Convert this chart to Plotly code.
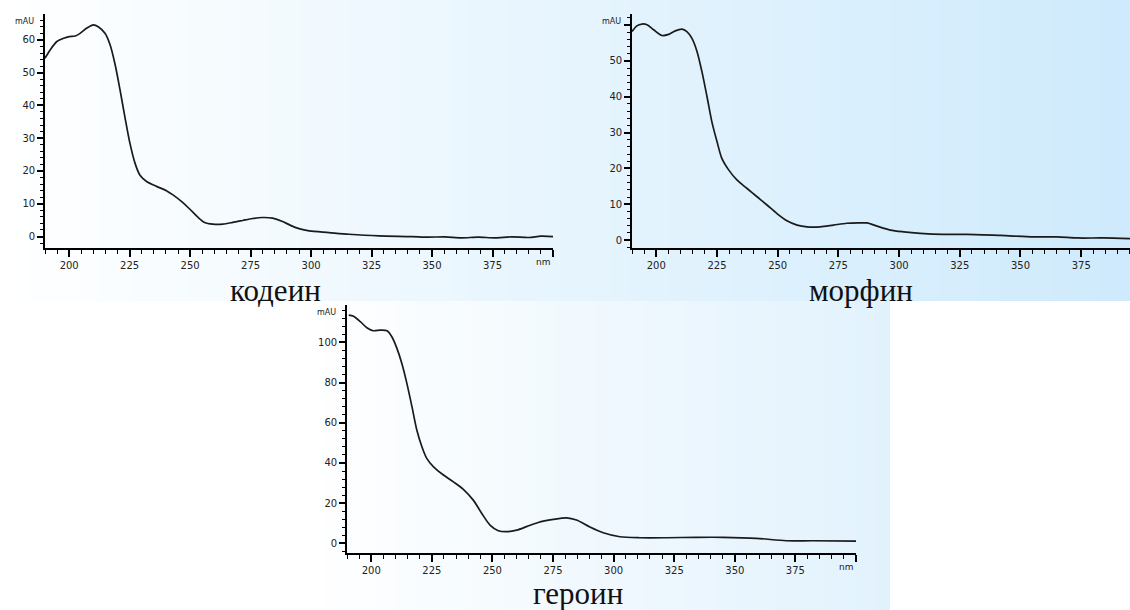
import plotly.graph_objects as go

W, H = 1130, 610

# ---------------- data ----------------
codeine_nm = [190, 192.2, 194.9, 197.7, 200, 202.5, 204.5, 207.3, 210, 212, 214.8, 216.9, 219, 221, 223,
              225.1, 227.2, 229.2, 232, 236.1, 240.2, 242.9, 246.4, 249.8, 253.2, 256, 259.4, 263.5, 267.6,
              271.7, 275.8, 279.9, 284.1, 288.2, 291.5, 295, 299.2, 307.4, 315.6, 328, 341.7, 348, 355.4,
              362, 369.1, 376, 382.9, 390, 395, 400]
codeine_mau = [54.4, 57, 59.5, 60.5, 61, 61.2, 62, 63.6, 64.6, 64, 62, 58.5, 52.4, 44.8, 36.6,
               28.5, 22.4, 18.8, 16.8, 15.3, 14, 12.7, 10.7, 8.4, 5.9, 4.3, 3.8, 3.8, 4.3,
               4.9, 5.5, 5.8, 5.6, 4.6, 3.4, 2.4, 1.7, 1.2, 0.7, 0.2, 0.0, -0.2, -0.1,
               -0.4, -0.2, -0.4, -0.1, -0.3, 0.1, 0.0]

morphine_nm = [190, 192, 194.1, 196.2, 198.9, 202.3, 205.1, 207.8, 210.6, 212.6, 214.7, 216.8, 218.8, 220.9,
               222.9, 225, 227, 229.8, 233.2, 237.4, 241.5, 245.6, 249.7, 253.8, 258, 262.1, 267.5, 273,
               278.5, 284, 286.8, 290.9, 296.4, 301.9, 308.7, 318.3, 328, 341.7, 355.4, 365, 373.3,
               384.2, 395.1]
morphine_mau = [58.2, 59.8, 60.3, 60.1, 58.7, 57.1, 57.4, 58.4, 58.9, 58.2, 56.3, 52.6, 47, 40,
                33, 27.5, 22.8, 19.6, 16.8, 14.4, 12.1, 9.8, 7.4, 5.4, 4.2, 3.7, 3.7, 4.2,
                4.7, 4.8, 4.8, 3.9, 2.8, 2.3, 1.9, 1.6, 1.6, 1.3, 0.9, 0.9, 0.6,
                0.6, 0.4]

heroin_nm = [190.7, 192.7, 195.5, 198.2, 200.9, 203.7, 206.5, 208.5, 210.6, 212.6, 214.7, 216.8, 218.8,
             220.9, 222.9, 225.7, 229.8, 233.9, 238, 242.1, 245.6, 249, 252.4, 255.9, 260, 264.1, 268.9,
             275.1, 280.6, 284.7, 290.2, 295.7, 302.6, 310.8, 321.8, 334.1, 345.1, 358.9, 371.2, 382.2, 400]
heroin_mau = [113.6, 113, 110.3, 107.3, 105.8, 106.1, 105.8, 102.8, 97, 89.6, 79.6, 68, 56.4,
              48.1, 42.3, 38.1, 34, 30.6, 26.9, 21.5, 14.9, 9.1, 6.3, 5.8, 6.6, 8.3, 10.4,
              11.9, 12.7, 11.6, 8.1, 5.3, 3.3, 2.8, 2.8, 3.0, 3.0, 2.5, 1.3, 1.3, 1.1]

names = ["кодеин", "морфин", "героин"]
x_ticks = [200, 225, 250, 275, 300, 325, 350, 375, 400]
x_ticktext = ["200", "225", "250", "275", "300", "325", "350", "375", ""]
y_ticks_small = [0, 10, 20, 30, 40, 50, 60]
y_ticks_small_text = ["0", "10", "20", "30", "40", "50", "60"]
y_ticks_morph = [0, 10, 20, 30, 40, 50, 60]
y_ticks_morph_text = ["0", "10", "20", "30", "40", "50", ""]
y_ticks_big = [0, 20, 40, 60, 80, 100]
y_ticks_big_text = ["0", "20", "40", "60", "80", "100"]

# ---------------- layout geometry (pixels) ----------------
def px_x(p):
    return p / W

def px_y(p):
    return 1 - p / H

panels = [
    dict(x=codeine_nm, y=codeine_mau, xdom=(45, 553), ydom=(14, 248), xr=[190, 400], yr=[-3.5, 67.9],
         yt=y_ticks_small, ytt=y_ticks_small_text, ymin=2, mau_y=21, nm_x=396, title_xy=(275, 290)),
    dict(x=morphine_nm, y=morphine_mau, xdom=(632, 1130), ydom=(14, 248), xr=[190, 395.1], yr=[-2.2, 63.1],
         yt=y_ticks_morph, ytt=y_ticks_morph_text, ymin=2, mau_y=21, nm_x=396, title_xy=(861, 290)),
    dict(x=heroin_nm, y=heroin_mau, xdom=(347, 856), ydom=(305, 553), xr=[190, 400], yr=[-4.8, 118.6],
         yt=y_ticks_big, ytt=y_ticks_big_text, ymin=4, mau_y=312, nm_x=396, title_xy=(578, 593)),
]

fig = go.Figure()
shapes = []

# background gradients
def lerp(c1, c2, t):
    return "rgb(%d,%d,%d)" % tuple(round(a + (b - a) * t) for a, b in zip(c1, c2))

step = 10
for x0 in range(0, W, step):
    t = (x0 + step / 2) / W
    shapes.append(dict(type="rect", xref="paper", yref="paper", x0=px_x(x0), x1=px_x(min(x0 + step + 1, W)),
                       y0=px_y(301), y1=1, fillcolor=lerp((255, 255, 255), (206, 234, 252), t),
                       line=dict(width=0), layer="below"))
for x0 in range(305, 890, step):
    t = (x0 + step / 2 - 305) / (890 - 305)
    shapes.append(dict(type="rect", xref="paper", yref="paper", x0=px_x(x0), x1=px_x(min(x0 + step + 1, 890)),
                       y0=0, y1=px_y(301), fillcolor=lerp((255, 255, 255), (226, 242, 253), t),
                       line=dict(width=0), layer="below"))

layout = dict(width=W, height=H, margin=dict(l=0, r=0, t=0, b=0), paper_bgcolor="white",
              plot_bgcolor="rgba(0,0,0,0)", showlegend=False, shapes=shapes)
annotations = []
tickfont = dict(family="DejaVu Sans", size=10, color="#222222")

for i, p in enumerate(panels, start=1):
    xa = "xaxis" if i == 1 else f"xaxis{i}"
    ya = "yaxis" if i == 1 else f"yaxis{i}"
    xr = "x" if i == 1 else f"x{i}"
    yr = "y" if i == 1 else f"y{i}"
    fig.add_trace(go.Scatter(x=p["x"], y=p["y"], mode="lines", xaxis=xr, yaxis=yr,
                             line=dict(color="#1a1a1a", width=1.7, shape="spline", smoothing=0.8),
                             hoverinfo="skip", cliponaxis=True))
    layout[xa] = dict(domain=[px_x(p["xdom"][0]), px_x(p["xdom"][1])], range=p["xr"], anchor=yr,
                      showgrid=False, zeroline=False, showline=True, linecolor="black", linewidth=1.6,
                      ticks="outside", ticklen=7, tickwidth=1.6, tickcolor="black",
                      tickmode="array", tickvals=x_ticks, ticktext=x_ticktext, tickfont=tickfont,
                      minor=dict(tickmode="linear", tick0=190, dtick=5, ticks="outside", ticklen=4,
                                 tickwidth=1.4, tickcolor="black", showgrid=False))
    layout[ya] = dict(domain=[px_y(p["ydom"][1]), px_y(p["ydom"][0])], range=p["yr"], anchor=xr,
                      showgrid=False, zeroline=False, showline=True, linecolor="black", linewidth=1.6,
                      ticks="outside", ticklen=6, tickwidth=1.6, tickcolor="black",
                      tickmode="array", tickvals=p["yt"], ticktext=p["ytt"], tickfont=tickfont,
                      minor=dict(tickmode="linear", tick0=0, dtick=p["ymin"], ticks="outside", ticklen=3,
                                 tickwidth=1.4, tickcolor="black", showgrid=False))
    # unit labels
    annotations.append(dict(xref="paper", yref="paper", x=px_x(p["xdom"][0] - 9), y=px_y(p["mau_y"]),
                            xanchor="right", yanchor="middle", text="mAU", showarrow=False,
                            font=dict(family="DejaVu Sans", size=8, color="#222222")))
    annotations.append(dict(xref=xr, yref="paper", x=p["nm_x"], y=px_y(p["ydom"][1] + 14),
                            xanchor="center", yanchor="middle", text="nm", showarrow=False,
                            font=dict(family="DejaVu Sans", size=9, color="#222222")))
    annotations.append(dict(xref="paper", yref="paper", x=px_x(p["title_xy"][0]), y=px_y(p["title_xy"][1]),
                            xanchor="center", yanchor="middle", text=names[i - 1], showarrow=False,
                            font=dict(family="Liberation Serif", size=31, color="#111111")))

layout["annotations"] = annotations
fig.update_layout(**layout)
fig.write_html("out.html", config={"displayModeBar": False},
               post_script="document.body.style.margin='0';document.body.style.padding='0';")
